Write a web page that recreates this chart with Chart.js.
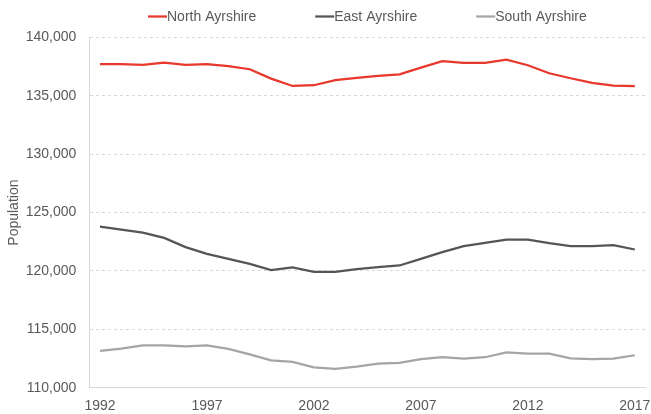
<!DOCTYPE html>
<html>
<head>
<meta charset="utf-8">
<script src="https://cdn.jsdelivr.net/npm/chart.js@4.4.0/dist/chart.umd.min.js"></script>
<style>
  html, body { margin: 0; padding: 0; background: #fff; }
  canvas { display: block; }
</style>
</head>
<body>
<canvas id="chart" width="651" height="414"></canvas>
<script>
// population by year
const years = ['1992','1993','1994','1995','1996','1997','1998','1999','2000','2001','2002','2003','2004',
               '2005','2006','2007','2008','2009','2010','2011','2012','2013','2014','2015','2016','2017'];
const northAyrshire = [137710,137710,137650,137850,137650,137710,137540,137280,136480,135850,135910,136340,136540,
                       136710,136850,137420,137970,137820,137820,138100,137620,136940,136510,136110,135880,135830];
const eastAyrshire = [123800,123550,123290,122830,122040,121470,121040,120610,120070,120300,119930,119930,120160,
                      120330,120470,121040,121610,122120,122410,122690,122690,122380,122120,122120,122210,121840];
const southAyrshire = [113150,113350,113630,113630,113550,113630,113320,112860,112350,112210,111750,111610,111810,
                       112070,112120,112440,112610,112490,112610,113030,112920,112920,112520,112440,112490,112780];
const xTickYears = ['1992','1997','2002','2007','2012','2017'];
const yMin = 110000, yMax = 140000, yStep = 5000;

const textColor = '#595959';
Chart.defaults.font.family = '"Liberation Sans", Arial, sans-serif';
Chart.defaults.font.size = 14;
Chart.defaults.color = textColor;

// excel style legend: short line right against the label
const lineLegend = {
  id: 'lineLegend',
  afterDraw(chart) {
    const ctx = chart.ctx, area = chart.chartArea;
    const lineW = 19, gap = 59, y = 16.5;
    ctx.save();
    ctx.font = '14px "Liberation Sans", Arial, sans-serif';
    ctx.textBaseline = 'middle';
    const items = chart.data.datasets.map(ds => ({
      label: ds.label, color: ds.borderColor,
      w: lineW + ctx.measureText(ds.label).width
    }));
    const total = items.reduce((s, it) => s + it.w, 0) + gap * (items.length - 1);
    let x = (area.left + area.right) / 2 - total / 2;
    items.forEach(it => {
      ctx.strokeStyle = it.color;
      ctx.lineWidth = 2.25;
      ctx.beginPath();
      ctx.moveTo(x, y);
      ctx.lineTo(x + lineW, y);
      ctx.stroke();
      ctx.fillStyle = textColor;
      ctx.fillText(it.label, x + lineW, y + 0.5);
      x += it.w + gap;
    });
    ctx.restore();
  }
};

const mkSet = (label, data, color) => ({
  label, data,
  borderColor: color, backgroundColor: color,
  borderWidth: 2.25, pointRadius: 0, tension: 0, fill: false
});

new Chart(document.getElementById('chart'), {
  type: 'line',
  data: {
    labels: years,
    datasets: [
      mkSet('North Ayrshire', northAyrshire, '#e8372c'),
      mkSet('East Ayrshire', eastAyrshire, '#555555'),
      mkSet('South Ayrshire', southAyrshire, '#a5a5a5')
    ]
  },
  options: {
    responsive: false,
    animation: false,
    devicePixelRatio: 1,
    layout: { padding: { top: 37.5, left: 2, right: 5.5, bottom: 0 } },
    plugins: {
      legend: { display: false },
      tooltip: { enabled: false }
    },
    scales: {
      x: {
        type: 'category',
        offset: true,
        afterFit: s => { s.height = 26.3; },
        // ticks kept only for label spacing, never drawn
        grid: { display: false, drawTicks: true, tickLength: 10, tickColor: 'transparent' },
        border: { display: true, color: '#d9d9d9', width: 1 },
        ticks: {
          autoSkip: false, maxRotation: 0, padding: 0, color: textColor,
          callback(v) {
            const lab = this.getLabelForValue(v);
            return xTickYears.includes(lab) ? lab : '';
          }
        }
      },
      y: {
        min: yMin, max: yMax,
        afterFit: s => { s.width = 87.3; },
        ticks: {
          stepSize: yStep, padding: 13, color: textColor,
          callback: v => v.toLocaleString('en-US')
        },
        grid: { color: '#d9d9d9', lineWidth: 1, drawTicks: false },
        border: { display: true, color: '#d9d9d9', dash: [3, 3] },
        title: {
          display: true, text: 'Population', color: textColor,
          font: { size: 14 }, padding: { top: 4, bottom: 4 }
        }
      }
    }
  },
  plugins: [lineLegend]
});
</script>
</body>
</html>
